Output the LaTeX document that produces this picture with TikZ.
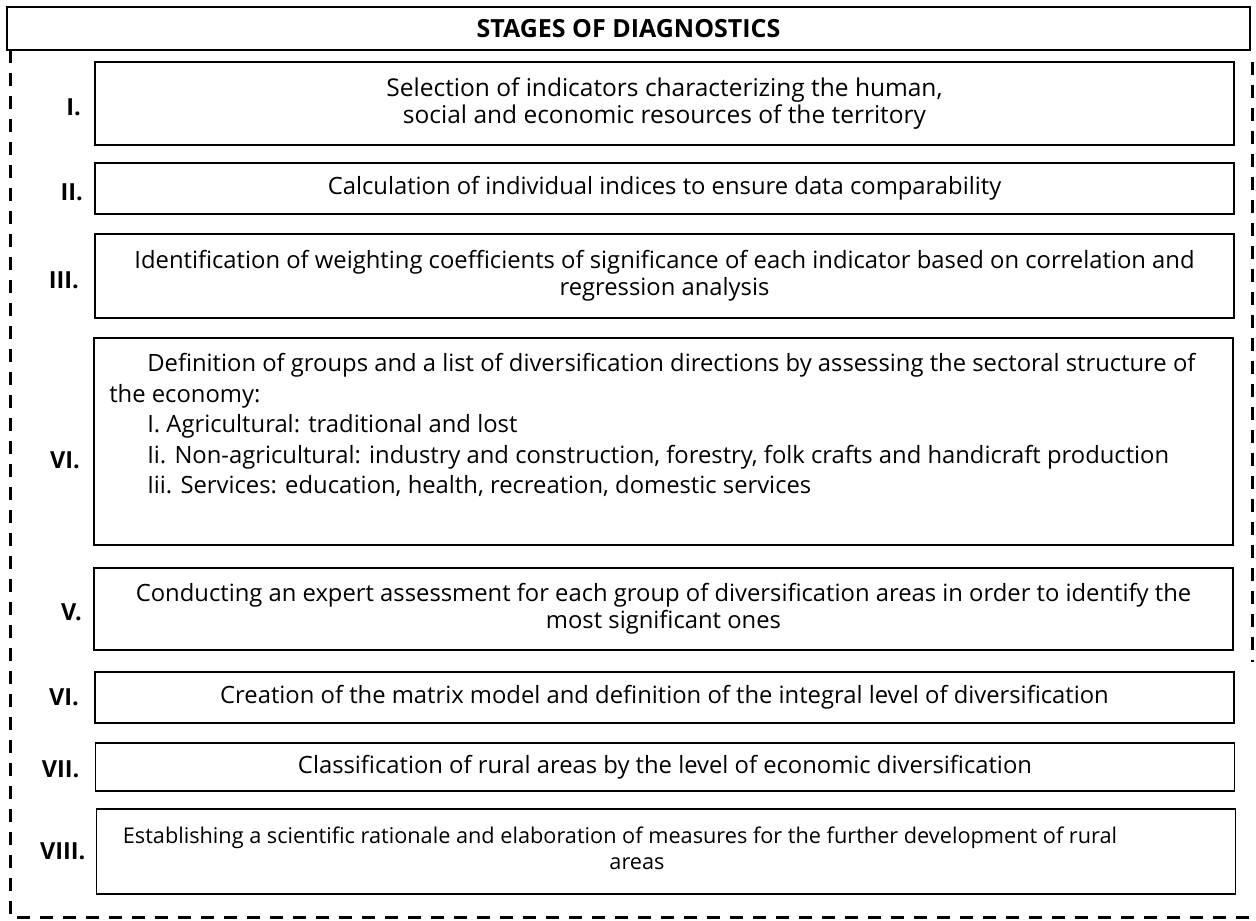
\documentclass[tikz,border=0pt]{standalone}
\usepackage{fontspec}
\setmainfont{Open Sans}
\usepackage{tikz}
\usetikzlibrary{positioning}

\begin{document}
\begin{tikzpicture}[x=1pt, y=-1pt,
    stagebox/.style={rectangle,draw,line width=1.8pt,inner sep=0pt,minimum width=1139pt,align=center,font=\fontsize{23.8pt}{27pt}\selectfont},
    num/.style={font=\fontsize{23.5pt}{27pt}\selectfont\bfseries,inner sep=0pt},
    frame/.style={line width=3pt,dash pattern=on 13pt off 10pt}]
    \useasboundingbox (0,0) rectangle (1256,921);

    % Header
    \node[draw,line width=2pt,minimum width=1243pt,minimum height=43pt,inner sep=0pt,
          font=\fontsize{25pt}{27pt}\selectfont\bfseries] (head) at (628.5,28.5) {STAGES OF DIAGNOSTICS};

    % Dashed frame round the stages
    \coordinate (fl) at (10,50);
    \coordinate (fb) at (10,917);
    \coordinate (fbr) at (1252,917);
    \coordinate (frt) at (1252,62);
    \coordinate (frb) at (1252,662);
    \draw[frame] (fl) -- (fb) -- (fbr);
    \draw[frame] (frt) -- (frb);

    % Stages
    \node[stagebox, minimum height=83pt, font=\fontsize{24.5pt}{27pt}\selectfont] (s1) at (664.5,103.5)
        {Selection of indicators characterizing the human,\\ social and economic resources of the territory};
    \node[stagebox, minimum height=51pt] (s2) at (664.5,188.5)
        {Calculation of individual indices to ensure data comparability};
    \node[stagebox, minimum height=84pt] (s3) at (664.5,276)
        {Identification of weighting coefficients of significance of each indicator based on correlation and\\ regression analysis};
    \node[stagebox, minimum height=207pt] (s4) at (663.5,441.5) {};
    \node[anchor=north west, inner sep=0pt, align=left, font=\fontsize{23.8pt}{30.5pt}\selectfont] (s4text)
        at ([xshift=16pt,yshift=-16pt]s4.north west)
        {\hspace*{38pt}Definition of groups and a list of diversification directions by assessing the sectoral structure of\\
         the economy:\\
         \hspace*{38pt}I. Agricultural: traditional and lost\\
         \hspace*{38pt}Ii. Non-agricultural: industry and construction, forestry, folk crafts and handicraft production\\
         \hspace*{38pt}Iii. Services: education, health, recreation, domestic services};
    \node[stagebox, minimum height=82pt] (s5) at (663.5,609)
        {Conducting an expert assessment for each group of diversification areas in order to identify the\\ most significant ones};
    \node[stagebox, minimum height=51pt] (s6) at (664.5,697.5)
        {Creation of the matrix model and definition of the integral level of diversification};
    \node[stagebox, minimum height=48pt] (s7) at (665,767)
        {Classification of rural areas by the level of economic diversification};
    \node[stagebox, minimum height=85pt] (s8) at (666,851.5) {};
    \node[align=center, inner sep=0pt, font=\fontsize{21.7pt}{26pt}\selectfont] (s8text)
        at ([xshift=-46pt,yshift=3pt]s8.center)
        {Establishing a scientific rationale and elaboration of measures for the further development of rural\\ \hspace*{34pt}areas};

    % Stage numbers
    \node[num, left=13pt of s1, yshift=-4pt] (n1) {I.};
    \node[num, left=11pt of s2, yshift=-4pt] (n2) {II.};
    \node[num, left=15pt of s3, yshift=-4pt] (n3) {III.};
    \node[num, left=13pt of s4, yshift=-19pt] (n4) {VI.};
    \node[num, left=11pt of s5, yshift=-3pt] (n5) {V.};
    \node[num, left=15pt of s6] (n6) {VI.};
    \node[num, left=15pt of s7, yshift=-2pt] (n7) {VII.};
    \node[num, left=10pt of s8] (n8) {VIII.};
\end{tikzpicture}
\end{document}
